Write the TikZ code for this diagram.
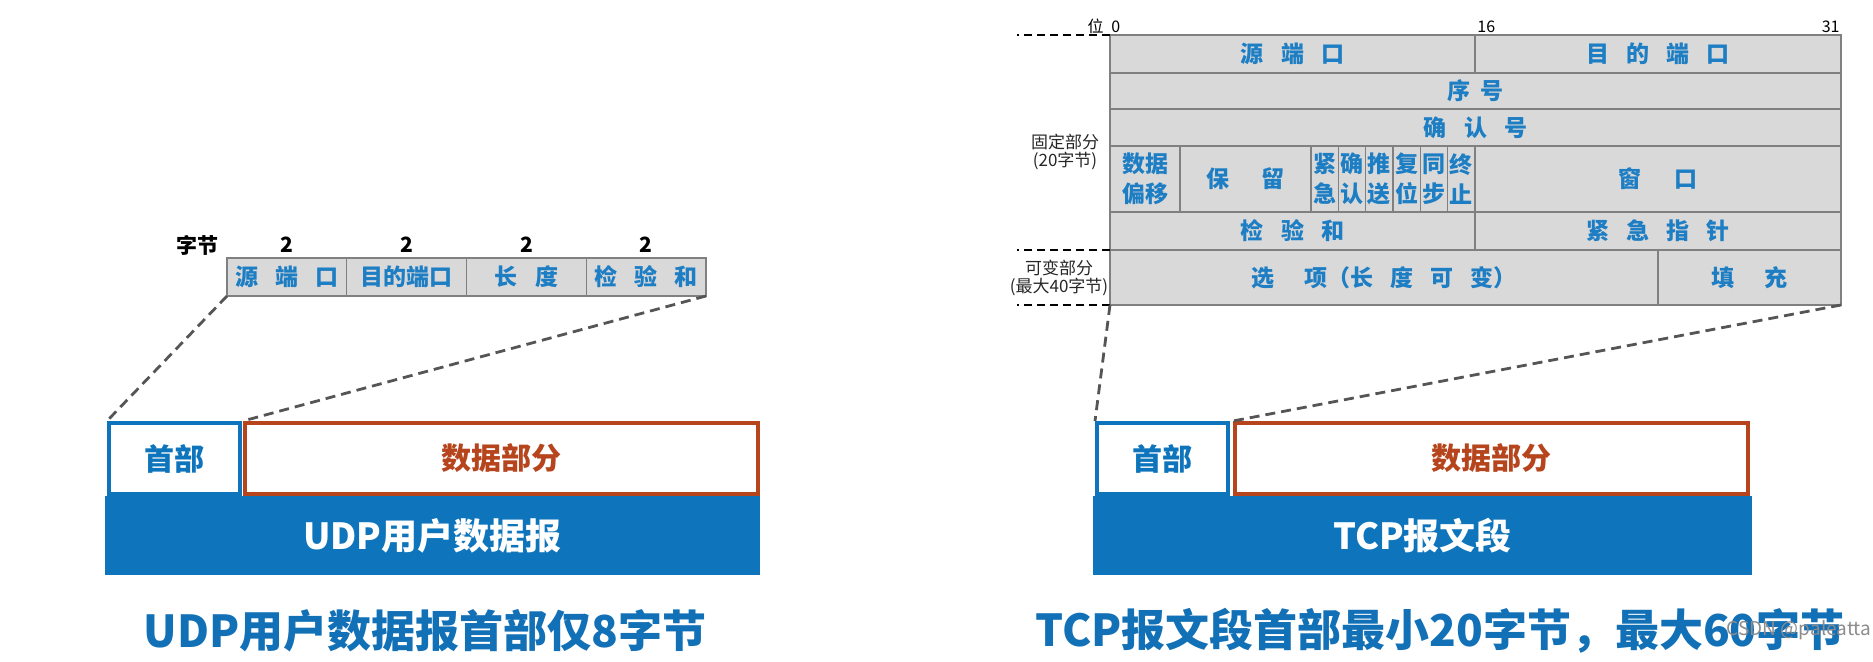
\documentclass[tikz,border=0pt]{standalone}
\usepackage{fontspec}
\setmainfont{Noto Sans CJK SC}
\usetikzlibrary{fit}

\definecolor{barblue}{RGB}{14,116,187}
\definecolor{titleblue}{RGB}{18,112,182}
\definecolor{txtblue}{RGB}{30,126,196}
\definecolor{brick}{RGB}{182,68,28}
\definecolor{cellfill}{RGB}{217,217,217}
\definecolor{cellline}{RGB}{128,128,128}
\definecolor{dashgray}{RGB}{85,85,85}

\newcommand\cg{\hspace{0.75em}}

\tikzset{
  cell/.style={draw=cellline, fill=cellfill, line width=0.7pt, inner sep=0pt, outer sep=0pt},
  celltx/.style={text=txtblue, font=\bfseries\fontsize{11.5}{15}\selectfont, align=center, inner sep=0pt},
  bytes/.style={font=\bfseries\fontsize{10.5}{10.5}\selectfont, inner sep=0pt},
  bits/.style={font=\fontsize{8}{8}\selectfont, inner sep=0pt},
  part/.style={font=\fontsize{8.5}{9}\selectfont, align=center, text=black!85, inner sep=0pt},
  guide/.style={line width=0.8pt, dash pattern=on 4pt off 2.5pt},
  link/.style={draw=dashgray, line width=1.4pt, dash pattern=on 5pt off 3pt},
  headbox/.style={draw=barblue, line width=2pt, fill=white, inner sep=0pt},
  headtx/.style={text=barblue, font=\bfseries\fontsize{15}{15}\selectfont, inner sep=0pt},
  databox/.style={draw=brick, line width=2pt, fill=white, inner sep=0pt},
  datatx/.style={text=brick, font=\bfseries\fontsize{15}{15}\selectfont, inner sep=0pt},
  bar/.style={fill=barblue, inner sep=0pt},
  bartx/.style={text=white, font=\bfseries\fontsize{18}{18}\selectfont, inner sep=0pt},
  title/.style={text=titleblue, font=\bfseries\fontsize{22}{22}\selectfont, inner sep=0pt},
}

\begin{document}
\begin{tikzpicture}[x=0.5pt,y=-0.5pt]
  \useasboundingbox (0,0) rectangle (1873,662);

  % UDP header
  \node[bytes] (ubytes) at (197,245) {字节};
  \foreach \t [count=\i from 0] in {源\cg 端\cg 口,目的端口,长\cg 度,检\cg 验\cg 和} {
    \node[cell, fit={(227+119.75*\i,258) (346.75+119.75*\i,296)}, label={[celltx]center:\t}] (ucell\i) {};
    \node[bytes] (ubyte\i) at (286.9+119.75*\i,245) {2};
  }
  \node[headbox, fit={(109,423) (240,494)}, label={[headtx]center:首部}] (uhead) {};
  \node[databox, fit={(245,423) (758,494)}, label={[datatx]center:数据部分}] (udata) {};
  \node[bar, fit={(105,496) (760,575)}, label={[bartx]center:UDP用户数据报}] (ubar) {};
  \draw[link] (ucell0.south west) -- (uhead.north west);
  \draw[link] (ucell3.south east) -- (udata.north west);
  \node[title] (utitle) at (425,631) {UDP用户数据报首部仅8字节};

  % TCP header
  \node[bits, anchor=base east] (wei) at (1104,33) {位};
  \node[bits, anchor=base west] (bit0) at (1111,33) {0};
  \node[bits, anchor=base west] (bit16) at (1477,33) {16};
  \node[bits, anchor=base east] (bit31) at (1840,33) {31};
  \node[cell, fit={(1110,35) (1475,73)}, label={[celltx]center:源\cg 端\cg 口}] (sport) {};
  \node[cell, fit={(1475,35) (1841,73)}, label={[celltx]center:目\cg 的\cg 端\cg 口}] (dport) {};
  \node[cell, fit={(1110,73) (1841,109)}, label={[celltx]center:序\hspace{0.45em}号}] (seq) {};
  \node[cell, fit={(1110,109) (1841,146)}, label={[celltx]center:确\cg 认\cg 号}] (ack) {};
  \node[cell, fit={(1110,146) (1180,212)}, label={[celltx]center:数据\\偏移}] (offset) {};
  \node[cell, fit={(1180,146) (1311,212)}, label={[celltx]center:保\hspace{1.4em}留}] (rsv) {};
  \foreach \a/\b [count=\i from 0] in {紧/急,确/认,推/送,复/位,同/步,终/止}
    \node[cell, fit={(1311+27.33*\i,146) (1338.33+27.33*\i,212)}, label={[celltx]center:\a\\\b}] (flag\i) {};
  \node[cell, fit={(1475,146) (1841,212)}, label={[celltx]center:窗\hspace{1.4em}口}] (win) {};
  \node[cell, fit={(1110,212) (1475,250)}, label={[celltx]center:检\cg 验\cg 和}] (csum) {};
  \node[cell, fit={(1475,212) (1841,250)}, label={[celltx]center:紧\cg 急\cg 指\cg 针}] (urg) {};
  \node[cell, fit={(1110,250) (1658,305)}, label={[celltx]center:选\hspace{1.3em}项（长\cg 度\cg 可\cg 变）}] (opt) {};
  \node[cell, fit={(1658,250) (1841,305)}, label={[celltx]center:填\hspace{1.3em}充}] (pad) {};

  \draw[guide] (sport.north west) -- ++(-93,0);
  \draw[guide] (opt.north west) -- ++(-93,0);
  \draw[guide] (opt.south west) -- ++(-93,0);
  \node[part] (fixed) at (1065,152) {固定部分\\(20字节)};
  \node[part] (var) at (1059,278) {可变部分\\(最大40字节)};

  \node[headbox, fit={(1097,423) (1228,494)}, label={[headtx]center:首部}] (thead) {};
  \node[databox, fit={(1235,423) (1748,494)}, label={[datatx]center:数据部分}] (tdata) {};
  \node[bar, fit={(1093,496) (1752,575)}, label={[bartx]center:TCP报文段}] (tbar) {};
  \draw[link] (opt.south west) -- (thead.north west);
  \draw[link] (pad.south east) -- (tdata.north west);
  \node[title] (ttitle) at (1440,631) {TCP报文段首部最小20字节，最大60字节};

  \node[font=\fontsize{9.5}{9.5}\selectfont, text=black!45] (mark) at (1799,630) {CSDN @paleatta};
\end{tikzpicture}
\end{document}
